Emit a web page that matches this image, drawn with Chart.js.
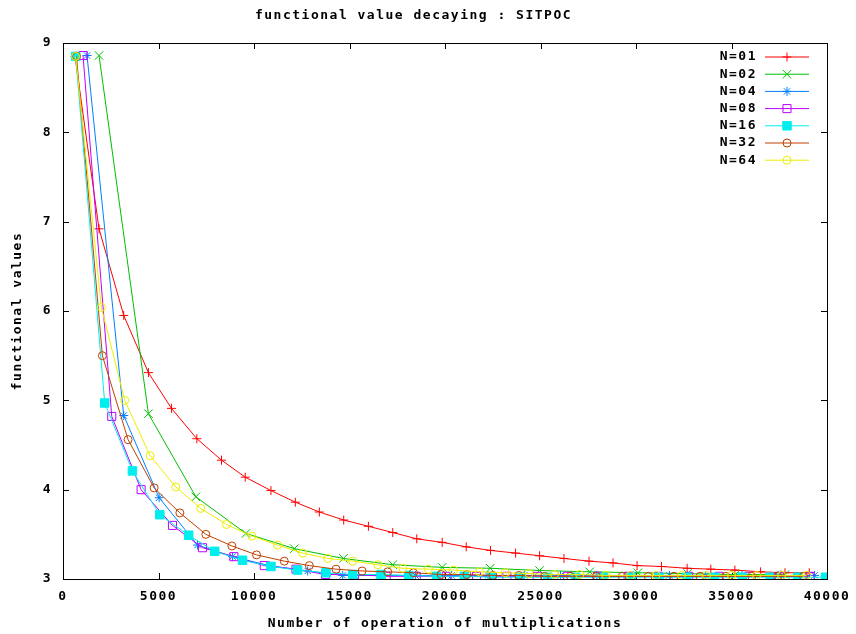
<!DOCTYPE html>
<html>
<head>
<meta charset="utf-8">
<script src="https://cdn.jsdelivr.net/npm/chart.js@4.4.0/dist/chart.umd.min.js"></script>
<style>
  html, body { margin: 0; padding: 0; background: #fff; }
</style>
</head>
<body>
<canvas id="decayChart" width="856" height="634"></canvas>
<script>
//VARIABLES

//Colors (gnuplot defaults)
var $red = "#ff0000";
var $green = "#00c000";
var $blue = "#0080ff";
var $violet = "#c000ff";
var $cyan = "#00eeee";
var $brown = "#c04000";
var $yellow = "#eeee00";
var $none = "rgba(0,0,0,0)";

var FONT = "'DejaVu Sans Mono', 'Liberation Mono', monospace";

//DATA
var seriesLabels = ["N=01", "N=02", "N=04", "N=08", "N=16", "N=32", "N=64"];
var xTickValues = [0, 5000, 10000, 15000, 20000, 25000, 30000, 35000, 40000];
var yTickValues = [3, 4, 5, 6, 7, 8, 9];

var n01X = [629, 1887, 3180, 4473, 5678, 7009, 8299, 9541, 10888, 12163, 13421, 14697, 15990, 17264, 18522, 19854, 21111, 22385, 23696, 24954, 26228, 27538, 28796, 30056, 31333, 32676, 33918, 35177, 36523, 37800, 39072];
var n01Y = [8.85, 6.92, 5.95, 5.31, 4.91, 4.57, 4.33, 4.14, 3.99, 3.86, 3.75, 3.66, 3.59, 3.52, 3.45, 3.41, 3.36, 3.32, 3.29, 3.26, 3.23, 3.20, 3.18, 3.15, 3.14, 3.12, 3.11, 3.10, 3.08, 3.07, 3.07];

var n02X = [1887, 4473, 6956, 9576, 12110, 14679, 17264, 19854, 22369, 24954, 27575, 30100, 32700, 35200, 37800];
var n02Y = [8.86, 4.85, 3.92, 3.51, 3.34, 3.23, 3.16, 3.13, 3.12, 3.095, 3.08, 3.07, 3.06, 3.05, 3.05];

var n04X = [1258, 3180, 5033, 7042, 8877, 10800, 12808, 14644, 16550, 18450, 20350, 22250, 24150, 26050, 27950, 29850, 31750, 33650, 35550, 37450, 39350];
var n04Y = [8.86, 4.83, 3.91, 3.38, 3.25, 3.15, 3.09, 3.04, 3.04, 3.04, 3.04, 3.04, 3.04, 3.04, 3.04, 3.04, 3.04, 3.04, 3.04, 3.04, 3.04];

var n08X = [1048, 2553, 4089, 5731, 7304, 8945, 10538, 12198, 13745, 15265, 16918, 18490, 20070, 21650, 23240, 24830, 26420, 28000, 29590, 31180, 32760, 34350, 35940, 37520, 39110];
var n08Y = [8.86, 4.82, 4.00, 3.60, 3.35, 3.25, 3.15, 3.11, 3.05, 3.05, 3.03, 3.03, 3.03, 3.03, 3.03, 3.03, 3.03, 3.03, 3.03, 3.03, 3.03, 3.03, 3.03, 3.03, 3.03];

var n16X = [664, 2184, 3634, 5066, 6580, 7943, 9400, 10888, 12284, 13770, 15170, 16655, 18100, 19560, 21010, 22470, 23920, 25380, 26830, 28290, 29740, 31200, 32650, 34110, 35560, 37020, 38470, 39920];
var n16Y = [8.85, 4.97, 4.21, 3.72, 3.49, 3.31, 3.21, 3.14, 3.10, 3.07, 3.05, 3.05, 3.04, 3.03, 3.03, 3.02, 3.02, 3.02, 3.02, 3.02, 3.02, 3.02, 3.02, 3.02, 3.02, 3.02, 3.02, 3.02];

var n32X = [707, 2062, 3408, 4771, 6118, 7479, 8842, 10134, 11586, 12896, 14296, 15659, 17000, 18349, 19800, 21150, 22500, 23860, 25210, 26570, 27920, 29280, 30640, 31990, 33350, 34700, 36060, 37410, 38770];
var n32Y = [8.85, 5.50, 4.56, 4.02, 3.74, 3.50, 3.37, 3.27, 3.20, 3.15, 3.11, 3.09, 3.08, 3.07, 3.05, 3.05, 3.04, 3.04, 3.03, 3.03, 3.03, 3.03, 3.03, 3.03, 3.03, 3.03, 3.03, 3.03, 3.03];

var n64X = [664, 2008, 3232, 4561, 5908, 7216, 8561, 9892, 11236, 12548, 13858, 15170, 16480, 17791, 19135, 20446, 21809, 23156, 24395, 25740, 27051, 28414, 29709, 31050, 32383, 33693, 35004, 36315, 37625, 38936];
var n64Y = [8.85, 6.04, 5.00, 4.38, 4.03, 3.79, 3.61, 3.48, 3.38, 3.29, 3.23, 3.20, 3.16, 3.12, 3.11, 3.10, 3.08, 3.07, 3.06, 3.05, 3.05, 3.04, 3.04, 3.04, 3.04, 3.04, 3.04, 3.04, 3.04, 3.04];

function toPoints(xs, ys) {
  return xs.map(function (x, i) { return { x: x, y: ys[i] }; });
}

function makeSet(i, xs, ys, color, style, radius, fill) {
  return {
    label: seriesLabels[i],
    data: toPoints(xs, ys),
    borderColor: color,
    borderWidth: 1,
    pointStyle: style,
    pointRadius: radius,
    pointBorderWidth: 1,
    pointBorderColor: color,
    pointBackgroundColor: fill,
    tension: 0,
    order: 7 - i
  };
}

// white page behind the plot, wider glyphs like the gnuplot bitmap font
var pagePlugin = {
  id: "page",
  beforeUpdate: function (chart) { chart.ctx.letterSpacing = "1.5px"; },
  beforeDraw: function (chart) {
    var ctx = chart.ctx;
    ctx.letterSpacing = "1.5px";
    ctx.save();
    ctx.fillStyle = "#fff";
    ctx.fillRect(0, 0, chart.width, chart.height);
    ctx.restore();
  }
};

// box border with inward ticks on all four sides
var framePlugin = {
  id: "frame",
  beforeDatasetsDraw: function (chart) {
    var ctx = chart.ctx, a = chart.chartArea;
    var xs = chart.scales.x, ys = chart.scales.y;
    ctx.save();
    ctx.strokeStyle = "#000";
    ctx.lineWidth = 1;
    ctx.beginPath();
    xs.ticks.forEach(function (t) {
      var px = Math.round(xs.getPixelForValue(t.value)) + 0.5;
      ctx.moveTo(px, a.bottom); ctx.lineTo(px, a.bottom - 6);
      ctx.moveTo(px, a.top); ctx.lineTo(px, a.top + 6);
    });
    ys.ticks.forEach(function (t) {
      var py = Math.round(ys.getPixelForValue(t.value)) + 0.5;
      ctx.moveTo(a.left, py); ctx.lineTo(a.left + 6, py);
      ctx.moveTo(a.right, py); ctx.lineTo(a.right - 6, py);
    });
    ctx.stroke();
    ctx.strokeRect(Math.round(a.left) + 0.5, Math.round(a.top) + 0.5, Math.round(a.width), Math.round(a.height));
    ctx.restore();
  }
};

// gnuplot style key: label then line sample with marker
var keyPlugin = {
  id: "key",
  afterDatasetsDraw: function (chart) {
    var ctx = chart.ctx;
    ctx.save();
    ctx.font = "bold 13px " + FONT;
    ctx.textAlign = "right";
    ctx.textBaseline = "middle";
    chart.data.datasets.forEach(function (ds, i) {
      var y = 57 + i * 17.2;
      ctx.fillStyle = "#000";
      ctx.fillText(ds.label, 757, y);
      ctx.strokeStyle = ds.borderColor;
      ctx.lineWidth = 1;
      ctx.beginPath();
      ctx.moveTo(765, y);
      ctx.lineTo(809, y);
      ctx.stroke();
      ctx.fillStyle = ds.pointBackgroundColor;
      Chart.helpers.drawPoint(ctx, {
        pointStyle: ds.pointStyle,
        radius: ds.pointRadius,
        borderWidth: 1,
        rotation: 0
      }, 787, y);
    });
    ctx.restore();
  }
};

var ctx = document.getElementById("decayChart").getContext("2d");
var decayChart = new Chart(ctx, {
  type: "line",
  data: {
    datasets: [
      makeSet(0, n01X, n01Y, $red, "cross", 4.5, $none),
      makeSet(1, n02X, n02Y, $green, "crossRot", 6, $none),
      makeSet(2, n04X, n04Y, $blue, "star", 4.5, $none),
      makeSet(3, n08X, n08Y, $violet, "rect", 5.7, $none),
      makeSet(4, n16X, n16Y, $cyan, "rect", 6, $cyan),
      makeSet(5, n32X, n32Y, $brown, "circle", 4, $none),
      makeSet(6, n64X, n64Y, $yellow, "circle", 4, $none)
    ]
  },
  options: {
    responsive: false,
    animation: false,
    layout: { padding: { left: 0, right: 29, top: 0, bottom: 0 } },
    plugins: {
      legend: { display: false },
      tooltip: { enabled: false },
      title: {
        display: true,
        text: "functional value decaying : SITPOC",
        color: "#000",
        font: { family: FONT, size: 13, weight: "bold" },
        padding: { top: 8, bottom: 19.4 }
      }
    },
    scales: {
      x: {
        type: "linear",
        min: 0,
        max: 40000,
        afterBuildTicks: function (scale) {
          scale.ticks = xTickValues.map(function (v) { return { value: v }; });
        },
        afterFit: function (scale) {
          scale.height = 55;
          scale.paddingLeft = 0;
          scale.paddingRight = 0;
        },
        grid: { display: false, drawTicks: false },
        border: { display: false },
        ticks: {
          color: "#000",
          font: { family: FONT, size: 13, weight: "bold" },
          padding: 10,
          maxRotation: 0,
          autoSkip: false,
          callback: function (v) { return String(v); }
        },
        title: {
          display: true,
          text: "Number of operation of multiplications",
          color: "#000",
          font: { family: FONT, size: 13, weight: "bold" },
          padding: { top: 0, bottom: 2.2 }
        }
      },
      y: {
        type: "linear",
        min: 3,
        max: 9,
        afterBuildTicks: function (scale) {
          scale.ticks = yTickValues.map(function (v) { return { value: v }; });
        },
        afterFit: function (scale) {
          scale.width = 63;
          scale.paddingTop = 0;
          scale.paddingBottom = 0;
        },
        grid: { display: false, drawTicks: false },
        border: { display: false },
        ticks: {
          color: "#000",
          font: { family: FONT, size: 13, weight: "bold" },
          padding: 11,
          callback: function (v) { return String(v); }
        },
        title: {
          display: true,
          text: "functional values",
          color: "#000",
          font: { family: FONT, size: 13, weight: "bold" },
          padding: { top: 10, bottom: 0 }
        }
      }
    }
  },
  plugins: [pagePlugin, framePlugin, keyPlugin]
});
</script>
</body>
</html>
